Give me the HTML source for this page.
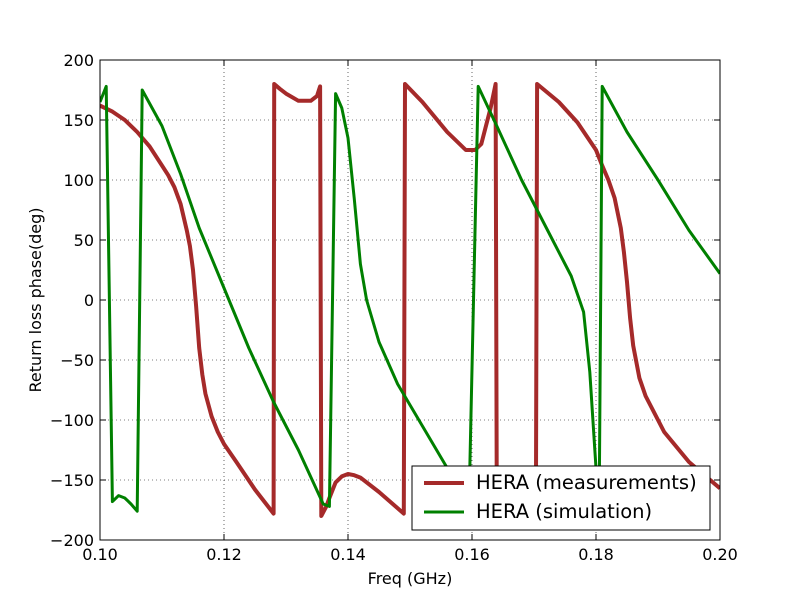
<!DOCTYPE html>
<html><head><meta charset="utf-8"><style>
body{margin:0;background:#fff}
svg text{font-family:"DejaVu Sans","Liberation Sans",sans-serif}
</style></head><body>
<svg id="c" width="800" height="600" xmlns="http://www.w3.org/2000/svg">
<rect width="800" height="600" fill="#fff"/>
<defs><clipPath id="clip"><rect x="100" y="60" width="620" height="480"/></clipPath></defs>
<g id="grid"></g><g id="ticks"></g>
<g id="series" clip-path="url(#clip)"></g>
<rect x="100" y="60" width="620" height="480" fill="none" stroke="#000" stroke-width="1"/>
<text x="410" y="584" font-size="16" text-anchor="middle">Freq (GHz)</text>
<text transform="translate(41,300) rotate(-90)" font-size="16" text-anchor="middle">Return loss phase(deg)</text>
<g>
<rect x="412" y="466" width="298" height="64" fill="#fff" stroke="#000"/>
<line x1="424" y1="483" x2="464" y2="483" stroke="#a52a2a" stroke-width="4"/>
<text x="476" y="489" font-size="19.5">HERA (measurements)</text>
<line x1="424" y1="512" x2="464" y2="512" stroke="#008000" stroke-width="3"/>
<text x="476" y="518" font-size="19.5">HERA (simulation)</text>
</g>
</svg>
<script>
const xTicks=[0.10,0.12,0.14,0.16,0.18,0.20];
const yTicks=[200,150,100,50,0,-50,-100,-150,-200];
const measFreq=[0.100,0.102,0.104,0.106,0.108,0.110,0.111,0.112,0.113,0.114,0.1145,0.115,0.1155,0.116,0.1165,0.117,0.118,0.119,0.120,0.122,0.125,0.128,0.1281,0.129,0.130,0.132,0.134,0.135,0.1355,0.1357,0.1365,0.137,0.138,0.139,0.140,0.141,0.142,0.145,0.149,0.1492,0.152,0.156,0.158,0.159,0.1605,0.1615,0.162,0.163,0.1638,0.1640,0.167,0.1703,0.1705,0.174,0.177,0.180,0.181,0.182,0.183,0.184,0.1845,0.185,0.1855,0.186,0.187,0.188,0.190,0.191,0.195,0.200];
const measPhase=[162,157,150,140,128,112,104,94,80,58,45,25,-5,-40,-62,-78,-97,-110,-120,-135,-158,-178,180,176,172,166,166,170,178,-180,-172,-165,-152,-147,-145,-146,-148,-160,-178,180,165,140,130,125,125,130,140,160,180,-175,-165,-178,180,165,148,125,112,100,85,60,40,15,-15,-38,-65,-80,-100,-110,-135,-157];
const simFreq=[0.100,0.101,0.102,0.103,0.104,0.105,0.106,0.1068,0.110,0.113,0.116,0.120,0.124,0.128,0.132,0.136,0.137,0.138,0.139,0.140,0.141,0.142,0.143,0.145,0.148,0.152,0.156,0.158,0.1595,0.161,0.164,0.168,0.172,0.176,0.178,0.179,0.180,0.1805,0.181,0.185,0.190,0.195,0.200];
const simPhase=[165,178,-168,-163,-165,-170,-176,175,145,105,60,10,-40,-85,-125,-170,-172,172,160,135,85,30,0,-35,-70,-105,-140,-158,-175,178,145,100,60,20,-10,-60,-140,-180,178,140,100,58,22];
const X=f=>100+(f-0.10)/0.10*620;
const Y=v=>300-v*1.2;
const NS="http://www.w3.org/2000/svg";
function mk(t,a,p){const e=document.createElementNS(NS,t);for(const k in a)e.setAttribute(k,a[k]);p.appendChild(e);return e;}
const grid=document.getElementById('grid'),ticks=document.getElementById('ticks'),ser=document.getElementById('series');
xTicks.forEach(t=>{const x=X(t);
 const g=mk('line',{x1:x,x2:x,y1:60,y2:540,stroke:'#000','stroke-width':0.6,'stroke-dasharray':'1,3'},grid);
 
 
 mk('line',{x1:x,x2:x,y1:540,y2:534,stroke:'#000'},ticks);
 mk('line',{x1:x,x2:x,y1:60,y2:66,stroke:'#000'},ticks);
 const tx=mk('text',{x:x,y:560,'font-size':16,'text-anchor':'middle'},ticks);tx.textContent=t.toFixed(2);
 
 
});
yTicks.forEach(t=>{const y=Y(t);
 const g=mk('line',{x1:100,x2:720,y1:y,y2:y,stroke:'#000','stroke-width':0.6,'stroke-dasharray':'1,3'},grid);
 
 
 mk('line',{x1:100,x2:106,y1:y,y2:y,stroke:'#000'},ticks);
 mk('line',{x1:714,x2:720,y1:y,y2:y,stroke:'#000'},ticks);
 const tx=mk('text',{x:94,y:y+6,'font-size':16,'text-anchor':'end'},ticks);tx.textContent=(t<0?'\u2212'+(-t):t);
 
 
});
function line(fs,vs,c,w,name){
 const d=fs.map((f,i)=>(i?'L':'M')+X(f).toFixed(1)+','+Y(vs[i]).toFixed(1)).join('');
 const p=mk('path',{d:d,fill:'none',stroke:c,'stroke-width':w,'stroke-linejoin':'round'},ser);
 
 
}
line(measFreq,measPhase,'#a52a2a',4,'measurements-line');
line(simFreq,simPhase,'#008000',3,'simulation-line');
</script>
</body></html>
